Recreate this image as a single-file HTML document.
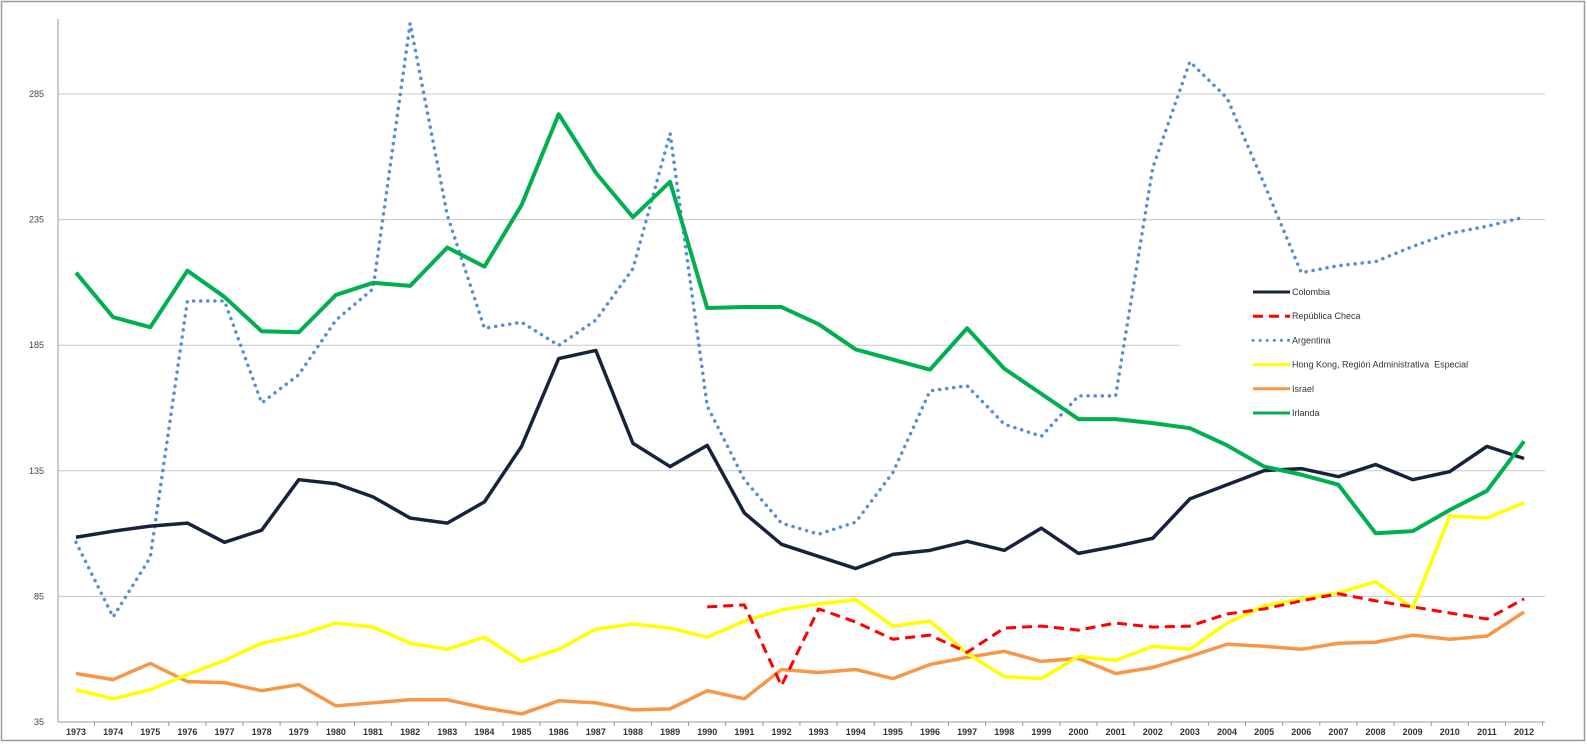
<!DOCTYPE html><html><head><meta charset="utf-8"><style>body{margin:0;background:#fff}svg{display:block}text{font-family:"Liberation Sans",sans-serif}</style></head><body>
<svg id="s" width="1587" height="747" xmlns="http://www.w3.org/2000/svg">
<rect x="1.5" y="1.5" width="1583" height="739" fill="#fff" stroke="#999" stroke-width="1.5"/>
<g id="g"></g>
</svg>
<script>
const s=document.getElementById('g');let h='';
const Y=v=>722-(v-35)*2.512, T=y=>94+(y-92)*628/622, X=i=>76+37.13*i;
[85,135,235,285].forEach(v=>h+=`<line x1="58" x2="1545" y1="${Y(v)}" y2="${Y(v)}" stroke="#c8c8c8" stroke-width="1"/>`);
h+=`<line x1="58" x2="1180" y1="${Y(185)}" y2="${Y(185)}" stroke="#c8c8c8"/>`;
[35,85,135,185,235,285].forEach(v=>h+=`<text x="44" y="${Y(v)+3}" font-size="9" fill="#444" text-anchor="end">${v}</text>`);
h+=`<line x1="58" x2="58" y1="19" y2="722" stroke="#999"/><line x1="58" x2="1545" y1="722" y2="722" stroke="#999"/>`;
for(let i=0;i<40;i++){h+=`<text x="${X(i)}" y="735" font-size="9" font-weight="bold" fill="#333" text-anchor="middle">${1973+i}</text>`;h+=`<line x1="${X(i)+18.5}" x2="${X(i)+18.5}" y1="722" y2="726" stroke="#999"/>`}
const P=(a,o,c,w,d)=>{h+=`<polyline fill="none" stroke="${c}" stroke-width="${w}" ${d||''} stroke-linejoin="round" points="${a.map((y,i)=>X(i+o)+','+T(y)).join(' ')}"/>`};
P([666,672,656,674,675,683,677,698,695,692,692,700,706,693,695,702,701,683,691,662,665,662,671,657,650,644,654,651,666,660,649,637,639,642,636,635,628,632,629,605],0,'#f79646',3.5);
P([682,691,682,667,653,636,628,616,620,636,642,630,654,642,622,617,621,630,614,603,597,593,619,614,646,669,671,649,653,639,642,616,599,592,586,575,601,510,512,497],0,'#ffff00',3.5);
P([600,598,678,602,615,632,628,645,621,619,623,616,620,619,607,602,594,587,594,600,606,612,592],17,'#ff0000',3,'stroke-dasharray="10,6"');
P([536,610,551,297,297,398,370,316,285,22,212,324,318,341,316,265,131,401,474,517,528,516,467,386,381,419,431,391,391,165,60,96,181,269,262,258,243,230,223,214],0,'#558ed5',3.5,'stroke-dasharray="0.1,7" stroke-linecap="round"');
P([531,525,520,517,536,524,474,478,491,512,517,496,441,354,346,438,461,440,507,538,550,562,548,544,535,544,522,547,540,532,493,479,465,463,471,459,474,466,441,453],0,'#17233d',3.5);
P([269,313,323,267,293,327,328,291,279,282,244,263,202,112,170,214,179,304,303,303,320,345,355,365,324,364,389,414,414,418,423,440,461,469,479,527,525,504,485,436],0,'#00b050',4);
const L=[['Colombia','#17233d',''],['República Checa','#ff0000','stroke-dasharray="10,6"'],['Argentina','#558ed5','stroke-dasharray="0.1,7" stroke-linecap="round"'],['Hong Kong, Región Administrativa  Especial','#ffff00',''],['Israel','#f79646',''],['Irlanda','#00b050','']];
L.forEach((l,i)=>{const y=292+i*24.2;h+=`<line x1="1253" x2="1290" y1="${y}" y2="${y}" stroke="${l[1]}" stroke-width="3" ${l[2]}/><text x="1292" y="${y+3}" font-size="9" fill="#333" xml:space="preserve">${l[0]}</text>`});
s.innerHTML=h;
</script></body></html>
